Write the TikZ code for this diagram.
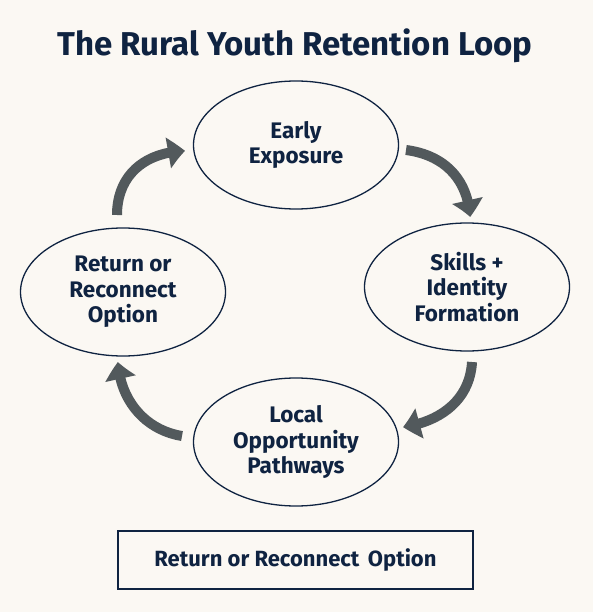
\documentclass[tikz,border=0pt]{standalone}
\usepackage{fontspec}
\setmainfont{Fira Sans}
\usetikzlibrary{arrows.meta,bending,shapes.geometric}
\definecolor{bg}{HTML}{FBF8F3}
\definecolor{navy}{HTML}{0F2341}
\definecolor{agrey}{HTML}{52595C}
\begin{document}
\begin{tikzpicture}[x=1pt,y=-1pt,
  stage/.style={ellipse, draw=navy, line width=1.3pt, fill=bg,
    minimum width=205pt, minimum height=128pt, inner sep=0pt,
    text=navy, font=\fontsize{22.5}{25.5}\selectfont\bfseries, align=center},
  loop/.style={draw=agrey, line width=10pt,
    -{Triangle[width=30pt,length=17pt,bend]}},
  footbox/.style={draw=navy, line width=1.3pt, fill=bg,
    minimum width=355pt, minimum height=58pt, inner sep=0pt,
    text=navy, font=\fontsize{22}{25}\selectfont\bfseries}]
\fill[bg] (0,0) rectangle (593,612);
\useasboundingbox (0,0) rectangle (593,612);
\node[text=navy, font=\fontsize{33}{38}\selectfont\bfseries] (title) at (295,46) {The Rural Youth Retention Loop};
\node[stage] (early) at (296,145) {Early\\Exposure};
\node[stage] (skills) at (467,287) {Skills +\\Identity\\Formation};
\node[stage] (local) at (296,442) {Local\\Opportunity\\Pathways};
\node[stage] (ret) at (123,292) {Return or\\Reconnect\\Option};
\node[footbox] (foot) at (295.5,560) {Return or Reconnect\hspace{0.15em} Option};
\coordinate (a1s) at (117,215);
\coordinate (a1e) at (185,151);
\coordinate (a2s) at (406,150);
\coordinate (a2e) at (470,217);
\coordinate (a3s) at (472,362);
\coordinate (a3e) at (403,427);
\coordinate (a4s) at (182,436);
\coordinate (a4e) at (118,362);
\draw[loop] (a1s) .. controls (117,175) and (145,152) .. (a1e);
\draw[loop] (a2s) .. controls (445,155) and (468,180) .. (a2e);
\draw[loop] (a3s) .. controls (470,400) and (440,422) .. (a3e);
\draw[loop] (a4s) .. controls (145,430) and (120,400) .. (a4e);
\end{tikzpicture}
\end{document}
